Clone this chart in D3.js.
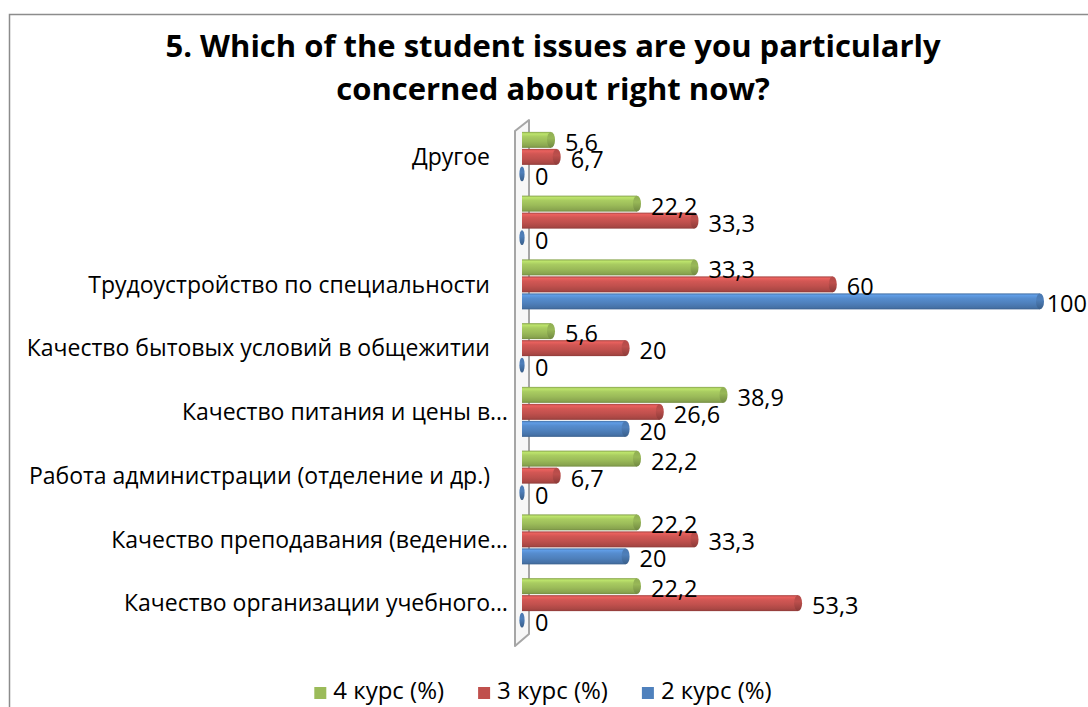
<!DOCTYPE html>
<html>
<head>
<meta charset="utf-8">
<script src="https://cdn.jsdelivr.net/npm/d3@7"></script>
<style>
  html, body { margin: 0; padding: 0; background: #fff; }
  svg { display: block; }
  text { font-family: "Open Sans", "Noto Sans", sans-serif; fill: #000; }
</style>
</head>
<body>
<svg id="chart" width="1088" height="707"></svg>
<script>
// Survey question and answer categories (top to bottom)
const titleLines = [
  "5. Which of the student issues are you particularly",
  "concerned about right now?"
];
const categories = [
  "Другое",
  "",
  "Трудоустройство по специальности",
  "Качество бытовых условий в общежитии",
  "Качество питания и цены в…",
  "Работа администрации (отделение и др.)",
  "Качество преподавания (ведение…",
  "Качество организации учебного…"
];
// Share of respondents per course, %
const seriesNames = ["4 курс (%)", "3 курс (%)", "2 курс (%)"];
const course4 = [5.6, 22.2, 33.3, 5.6, 38.9, 22.2, 22.2, 22.2];
const course3 = [6.7, 33.3, 60, 20, 26.6, 6.7, 33.3, 53.3];
const course2 = [0, 0, 100, 0, 20, 0, 20, 0];
const seriesValues = [course4, course3, course2];
const seriesColors = ["#9BBB59", "#C0504D", "#4F81BD"];

const W = 1088, H = 707;
const svg = d3.select("#chart");
const defs = svg.append("defs");

// Outer chart frame
svg.append("rect")
  .attr("x", 9.5).attr("y", 14.5)
  .attr("width", W + 20).attr("height", H + 20)
  .attr("fill", "#fff").attr("stroke", "#8c8c8c").attr("stroke-width", 1.5);

// Title
svg.append("g").selectAll("text").data(titleLines).join("text")
  .attr("x", 553)
  .attr("y", (d, i) => 57 + i * 43)
  .attr("text-anchor", "middle")
  .style("font-weight", "bold")
  .style("font-size", "31px")
  .text(d => d);

// Scales
const x = d3.scaleLinear().domain([0, 100]).range([522, 1040]);
const y = d3.scaleBand().domain(d3.range(categories.length)).range([125, 635]);
const inner = d3.scaleBand().domain(d3.range(seriesNames.length))
  .range([-25.5, 25.5]).paddingInner(0.06).paddingOuter(0.03);
const bh = inner.bandwidth();

// Cylinder shading per series
seriesColors.forEach((c, i) => {
  const base = d3.color(c);
  const g = defs.append("linearGradient").attr("id", "cyl" + i)
    .attr("x1", 0).attr("y1", 0).attr("x2", 0).attr("y2", 1);
  [[0, base.darker(0.4)], [0.12, base.brighter(0.55)], [0.3, base.brighter(0.25)],
   [0.6, base], [0.88, base.darker(0.35)], [1, base.darker(0.8)]]
    .forEach(([o, col]) => g.append("stop").attr("offset", o).attr("stop-color", col.formatHex()));
  const e = defs.append("linearGradient").attr("id", "cap" + i)
    .attr("x1", 0).attr("y1", 0).attr("x2", 0).attr("y2", 1);
  [[0, base.darker(0.2)], [0.4, base.darker(0.05)], [1, base.darker(0.9)]]
    .forEach(([o, col]) => e.append("stop").attr("offset", o).attr("stop-color", col.formatHex()));
});

// Side wall (thin 3D panel on the value-axis origin)
const wallTop = y.range()[0], wallBot = y.range()[1];
svg.append("path")
  .attr("d", `M515,${wallTop + 6} L529,${wallTop - 5} L529,${wallBot - 1} L515,${wallBot + 11} Z`)
  .attr("fill", "#f7f7f7").attr("stroke", "#a6a6a6").attr("stroke-width", 2)
  .attr("stroke-linejoin", "round");

// Category labels
const fmtLocale = d3.formatLocale({ decimal: ",", thousands: " ", grouping: [3], currency: ["", ""] });
const fmt = fmtLocale.format(".3~g");

svg.append("g").selectAll("text").data(categories).join("text")
  .attr("x", d => d.endsWith("…") ? 508 : 490)
  .attr("y", (d, i) => y(i) + y.bandwidth() / 2)
  .attr("dy", "0.36em")
  .attr("text-anchor", "end")
  .style("font-size", "23px")
  .text(d => d);

// Bars
const rows = [];
seriesValues.forEach((vals, s) => vals.forEach((v, c) => rows.push({ s, c, v })));

const bars = svg.append("g");
rows.forEach(r => {
  const cy = y(r.c) + y.bandwidth() / 2 + inner(r.s) + bh / 2;
  r.cy = cy;
  if (r.v > 0) {
    bars.append("rect")
      .attr("x", x(0)).attr("y", cy - bh / 2)
      .attr("width", x(r.v) - x(0)).attr("height", bh)
      .attr("fill", `url(#cyl${r.s})`);
    bars.append("ellipse")
      .attr("cx", x(r.v)).attr("cy", cy)
      .attr("rx", 4).attr("ry", bh / 2)
      .attr("fill", `url(#cap${r.s})`);
  } else {
    bars.append("ellipse")
      .attr("cx", x(0)).attr("cy", cy)
      .attr("rx", 2.6).attr("ry", bh / 2 - 0.5)
      .attr("fill", `url(#cap${r.s})`);
  }
});

// Value labels, kept inside the chart area
const labels = svg.append("g");
rows.forEach(r => {
  const t = labels.append("text")
    .attr("y", r.cy + 2.5)
    .attr("dy", "0.36em")
    .style("font-size", "23.5px")
    .text(fmt(r.v));
  const w = t.node().getComputedTextLength();
  t.attr("x", Math.min(x(r.v) + (r.v > 0 ? 14 : 13), W - w - 1));
});

// Legend
const legend = svg.append("g");
const items = seriesNames.map((n, i) => {
  const t = legend.append("text").attr("y", 699).style("font-size", "24px").text(n);
  return { t, w: t.node().getComputedTextLength(), i };
});
const sq = 12, gapIn = 7, gapOut = 34;
const total = d3.sum(items, d => sq + gapIn + d.w) + gapOut * (items.length - 1);
let lx = 543 - total / 2;
items.forEach(d => {
  legend.append("rect").attr("x", lx).attr("y", 687).attr("width", sq).attr("height", sq)
    .attr("fill", seriesColors[d.i]);
  d.t.attr("x", lx + sq + gapIn);
  lx += sq + gapIn + d.w + gapOut;
});
</script>
</body>
</html>
